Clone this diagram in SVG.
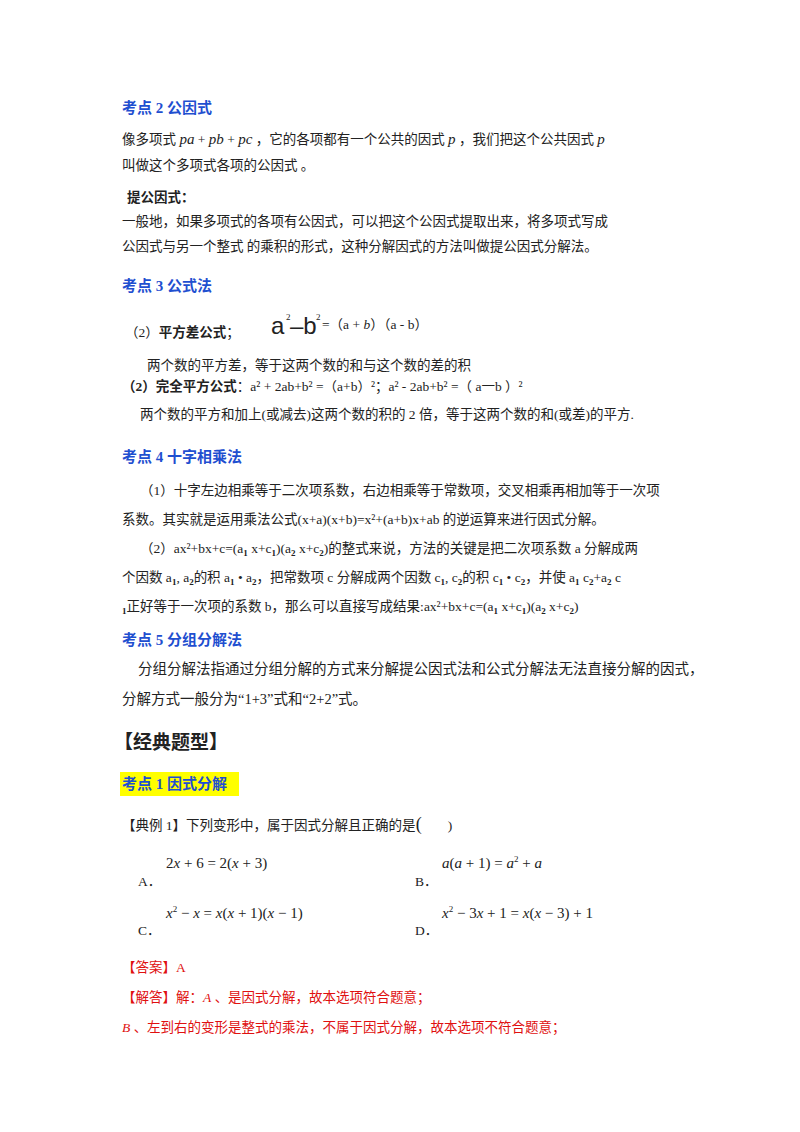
<svg xmlns="http://www.w3.org/2000/svg" width="800" height="1132" viewBox="0 0 800 1132">
<style>
text{font-family:"Liberation Serif","Noto Sans CJK SC",serif;font-size:13.5px;fill:#222}
.h{fill:#1f4fd0;font-weight:bold;font-size:15px}
.b{font-weight:bold}
.i{font-style:italic}
.r{fill:#e01010}
.s{font-size:9px}
.f{font-size:15px}
</style>
<rect width="800" height="1132" fill="#fff"/>
<text class="h" x="122" y="113">考点 2  公因式</text>
<text x="122" y="144">像多项式 <tspan class="i f">pa</tspan> + <tspan class="i f">pb</tspan> + <tspan class="i f">pc</tspan> ，它的各项都有一个公共的因式 <tspan class="i f">p</tspan> ，我们把这个公共因式 <tspan class="i f">p</tspan></text>
<text x="122" y="170">叫做这个多项式各项的公因式 。</text>
<text class="b" x="127" y="202">提公因式：</text>
<text x="122" y="226">一般地，如果多项式的各项有公因式，可以把这个公因式提取出来，将多项式写成</text>
<text x="122" y="251">公因式与另一个整式  的乘积的形式，这种分解因式的方法叫做提公因式分解法。</text>
<text class="h" x="122" y="291">考点 3  公式法</text>
<text x="125" y="337">（2）<tspan class="b">平方差公式</tspan>；</text>
<text x="271" y="334" style="font-size:24px;font-family:'Liberation Sans',sans-serif">a</text>
<text x="286" y="320" class="s">2</text>
<text x="290" y="334" style="font-size:24px;font-family:'Liberation Sans',sans-serif">–b</text>
<text x="316" y="320" class="s">2</text>
<text x="322" y="329">=（a + <tspan class="i">b</tspan>）（a - b）</text>
<text x="147" y="370">两个数的平方差，等于这两个数的和与这个数的差的积</text>
<text x="122" y="391"><tspan class="b">（2）完全平方公式</tspan>：a² + 2ab+b² =（a+b）²；a² - 2ab+b² =（ a一b ）²</text>
<text x="140" y="419">两个数的平方和加上(或减去)这两个数的积的  2  倍，等于这两个数的和(或差)的平方.</text>
<text class="h" x="122" y="462">考点 4  十字相乘法</text>
<text x="140" y="495">（1）十字左边相乘等于二次项系数，右边相乘等于常数项，交叉相乘再相加等于一次项</text>
<text x="122" y="524">系数。其实就是运用乘法公式(x+a)(x+b)=x²+(a+b)x+ab 的逆运算来进行因式分解。</text>
<text x="140" y="553">（2）ax²+bx+c=(a<tspan class="s b" dy="3">1</tspan><tspan dy="-3"> x+c</tspan><tspan class="s b" dy="3">1</tspan><tspan dy="-3">)(a</tspan><tspan class="s b" dy="3">2</tspan><tspan dy="-3"> x+c</tspan><tspan class="s b" dy="3">2</tspan><tspan dy="-3">)的整式来说，方法的关键是把二次项系数 a 分解成两</tspan></text>
<text x="122" y="582">个因数 a<tspan class="s b" dy="3">1</tspan><tspan dy="-3">, a</tspan><tspan class="s b" dy="3">2</tspan><tspan dy="-3">的积 a</tspan><tspan class="s b" dy="3">1</tspan><tspan dy="-3"> • a</tspan><tspan class="s b" dy="3">2</tspan><tspan dy="-3">，把常数项 c 分解成两个因数 c</tspan><tspan class="s b" dy="3">1</tspan><tspan dy="-3">, c</tspan><tspan class="s b" dy="3">2</tspan><tspan dy="-3">的积 c</tspan><tspan class="s b" dy="3">1</tspan><tspan dy="-3"> • c</tspan><tspan class="s b" dy="3">2</tspan><tspan dy="-3">，并使 a</tspan><tspan class="s b" dy="3">1</tspan><tspan dy="-3"> c</tspan><tspan class="s b" dy="3">2</tspan><tspan dy="-3">+a</tspan><tspan class="s b" dy="3">2</tspan><tspan dy="-3"> c</tspan></text>
<text x="122" y="611"><tspan class="s b" dy="3">1</tspan><tspan dy="-3">正好等于一次项的系数 b，那么可以直接写成结果:ax²+bx+c=(a</tspan><tspan class="s b" dy="3">1</tspan><tspan dy="-3"> x+c</tspan><tspan class="s b" dy="3">1</tspan><tspan dy="-3">)(a</tspan><tspan class="s b" dy="3">2</tspan><tspan dy="-3"> x+c</tspan><tspan class="s b" dy="3">2</tspan><tspan dy="-3">)</tspan></text>
<text class="h" x="122" y="645">考点 5  分组分解法</text>
<text x="138" y="674" style="font-size:14.5px">分组分解法指通过分组分解的方式来分解提公因式法和公式分解法无法直接分解的因式，</text>
<text x="122" y="704" style="font-size:14.5px">分解方式一般分为“1+3”式和“2+2”式。</text>
<text class="b" x="114" y="749" style="font-size:19px">【经典题型】</text>
<rect x="120" y="772" width="119" height="24" fill="#ffff00"/>
<text class="h" x="122" y="789">考点 1  因式分解</text>
<text x="122" y="830">【典例 1】下列变形中，属于因式分解且正确的是<tspan style="font-size:18px">(</tspan><tspan dx="26">)</tspan></text>
<text x="166" y="868" class="f">2<tspan class="i">x</tspan> + 6 = 2(<tspan class="i">x</tspan> + 3)</text>
<text x="138" y="886">A．</text>
<text x="442" y="868" class="f"><tspan class="i">a</tspan>(<tspan class="i">a</tspan> + 1) = <tspan class="i">a</tspan><tspan class="s" dy="-6">2</tspan><tspan dy="6"> + </tspan><tspan class="i">a</tspan></text>
<text x="415" y="886">B．</text>
<text x="166" y="918" class="f"><tspan class="i">x</tspan><tspan class="s" dy="-6">2</tspan><tspan dy="6"> − </tspan><tspan class="i">x</tspan> = <tspan class="i">x</tspan>(<tspan class="i">x</tspan> + 1)(<tspan class="i">x</tspan> − 1)</text>
<text x="138" y="935">C．</text>
<text x="442" y="918" class="f"><tspan class="i">x</tspan><tspan class="s" dy="-6">2</tspan><tspan dy="6"> − 3</tspan><tspan class="i">x</tspan> + 1 = <tspan class="i">x</tspan>(<tspan class="i">x</tspan> − 3) + 1</text>
<text x="415" y="935">D．</text>
<text x="122" y="972" style="fill:#e01010">【答案】A</text>
<text x="122" y="1002" style="fill:#e01010">【解答】解：<tspan class="i">A</tspan> 、是因式分解，故本选项符合题意；</text>
<text x="122" y="1032" style="fill:#e01010"><tspan class="i">B</tspan> 、左到右的变形是整式的乘法，不属于因式分解，故本选项不符合题意；</text>
</svg>
